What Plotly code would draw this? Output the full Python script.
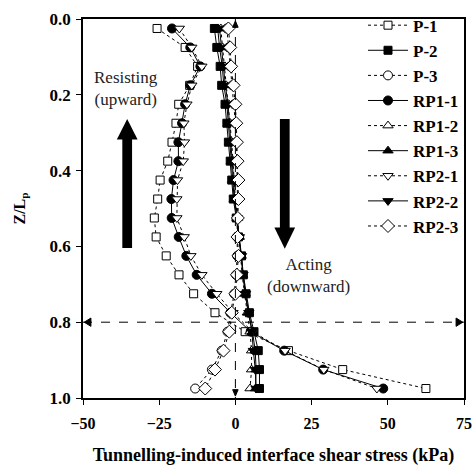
import plotly.graph_objects as go

# depths Z/Lp
depth = [0.025, 0.075, 0.125, 0.175, 0.225, 0.275, 0.325, 0.375, 0.425, 0.475,
         0.525, 0.575, 0.625, 0.675, 0.725, 0.775, 0.825, 0.875, 0.925, 0.975]

p1 = [-25.7, -16.5, -12.4, -15.0, -18.6, -19.5, -20.8, -22.2, -24.7, -25.5,
      -26.6, -26.0, -22.7, -18.5, -13.7, -6.7, 3.2, 17.4, 35.2, 62.5]
p2 = [-6.9, -6.1, -5.0, -4.5, -3.4, -2.8, -2.3, -1.7, -1.2, -0.7,
      0.3, 1.0, 2.0, 2.6, 3.5, 4.6, 6.1, 7.5, 7.9, 7.9]
p3 = [-2.8, -2.2, -1.7, -1.0, -0.4, 0.0, 0.3, 0.5, 0.6, 0.7,
      0.6, 0.5, 0.6, 0.2, -0.4, -1.6, -2.6, -4.5, -7.7, -13.2]
rp11 = [-20.8, -14.8, -11.5, -14.8, -16.5, -17.5, -18.7, -18.7, -20.3, -21.0,
        -20.9, -18.6, -16.1, -12.7, -7.7, -1.6, 5.0, 16.0, 28.8, 48.5]
rp12 = [-4.8, -4.2, -3.4, -3.0, -2.2, -1.7, -1.2, -0.8, -0.4, 0.0,
        0.7, 1.2, 1.7, 2.2, 3.0, 3.9, 4.8, 5.3, 5.3, 4.8]
rp13 = [-5.8, -5.2, -4.3, -3.8, -2.8, -2.3, -1.8, -1.3, -0.9, -0.4,
        0.5, 1.2, 1.9, 2.4, 3.2, 4.2, 5.6, 6.5, 6.8, 6.6]
rp21 = [-18.4, -14.3, -11.0, -14.3, -15.9, -16.9, -16.7, -17.1, -19.0, -19.2,
        -19.2, -16.8, -14.6, -11.0, -6.1, -0.8, 5.6, 16.3, 29.0, 46.4]
rp22 = [-5.2, -4.6, -3.8, -3.3, -2.4, -1.9, -1.5, -1.0, -0.6, -0.2,
        0.6, 1.3, 2.0, 2.5, 3.3, 4.4, 5.4, 5.9, 6.5, 6.8]
rp23 = [-2.3, -1.7, -1.4, -0.6, 0.0, 0.3, 0.5, 0.7, 1.0, 1.0,
        0.8, 0.7, 1.0, 0.5, 0.0, -1.2, -2.0, -3.9, -6.7, -9.9]

names = ["P-1", "P-2", "P-3", "RP1-1", "RP1-2", "RP1-3", "RP2-1", "RP2-2", "RP2-3"]
series = [p1, p2, p3, rp11, rp12, rp13, rp21, rp22, rp23]
symbols = ["square", "square", "circle", "circle", "triangle-up", "triangle-up",
           "triangle-down", "triangle-down", "diamond"]
filled = [False, True, False, True, False, True, False, True, False]
sizes = [8, 8, 9, 9, 9, 9, 9, 9, 10]

FONT = "Liberation Serif"

fig = go.Figure()
for nm, xs, sym, fl, sz in zip(names, series, symbols, filled, sizes):
    fig.add_trace(go.Scatter(
        x=xs, y=depth, name=nm, mode="lines+markers",
        line=dict(color="black", width=1, dash="solid" if fl else "dot"),
        marker=dict(symbol=sym, size=sz, color="black" if fl else "white",
                    line=dict(color="black", width=1)),
    ))

shapes = []
# dashed reference lines
shapes.append(dict(type="line", x0=-50, x1=75, y0=0.8, y1=0.8, xref="x", yref="y",
                   line=dict(color="black", width=1, dash="dash")))
shapes.append(dict(type="line", x0=0, x1=0, y0=0.0, y1=1.0, xref="x", yref="y",
                   line=dict(color="black", width=1, dash="dash")))
# small arrow heads
for path in ["M -49.6,0.8 L -47.4,0.789 L -47.4,0.811 Z",
             "M 74.6,0.8 L 72.4,0.789 L 72.4,0.811 Z",
             "M 0,0.005 L -0.9,0.022 L 0.9,0.022 Z",
             "M 0,0.995 L -0.9,0.978 L 0.9,0.978 Z"]:
    shapes.append(dict(type="path", path=path, xref="x", yref="y",
                       fillcolor="black", line=dict(color="black", width=1)))
# big up arrow (resisting)
shapes.append(dict(type="rect", x0=-37.1, x1=-33.9, y0=0.31, y1=0.604, xref="x", yref="y",
                   fillcolor="black", line=dict(width=0)))
shapes.append(dict(type="path", path="M -35.5,0.264 L -38.9,0.318 L -32.1,0.318 Z",
                   xref="x", yref="y", fillcolor="black", line=dict(width=0)))
# big down arrow (acting)
shapes.append(dict(type="rect", x0=14.6, x1=17.8, y0=0.264, y1=0.555, xref="x", yref="y",
                   fillcolor="black", line=dict(width=0)))
shapes.append(dict(type="path", path="M 16.2,0.606 L 12.8,0.55 L 19.6,0.55 Z",
                   xref="x", yref="y", fillcolor="black", line=dict(width=0)))

annotations = [
    dict(x=-35.8, y=0.183, xref="x", yref="y", text="Resisting<br>(upward)", showarrow=False,
         font=dict(family=FONT, size=17, color="#222")),
    dict(x=23.9, y=0.678, xref="x", yref="y", text="Acting<br>(downward)", showarrow=False,
         font=dict(family=FONT, size=17, color="#222")),
]

fig.update_layout(
    width=472, height=466,
    margin=dict(l=83, r=8, t=16, b=68),
    paper_bgcolor="white", plot_bgcolor="white",
    font=dict(family=FONT, color="black", size=16),
    shapes=shapes, annotations=annotations,
    legend=dict(x=1.0, xanchor="right", y=1.03, yanchor="top",
                bgcolor="rgba(0,0,0,0)", borderwidth=0, maxheight=400,
                font=dict(family=FONT, size=17, color="black", weight="bold"),
                itemwidth=40, tracegroupgap=0),
    showlegend=True,
)
fig.update_xaxes(range=[-50, 75], tickvals=[-50, -25, 0, 25, 50, 75],
                 showline=True, linecolor="black", linewidth=1.5, mirror=True,
                 ticks="outside", ticklen=5, tickcolor="black", showgrid=False, zeroline=False,
                 ticklabelstandoff=5, automargin=False,
                 tickfont=dict(family=FONT, size=16, weight="bold"),
                 title=dict(text="Tunnelling-induced interface shear stress (kPa)",
                            font=dict(family=FONT, size=18, weight="bold"), standoff=18))
fig.update_yaxes(range=[1.0, 0.0], tickvals=[0.0, 0.2, 0.4, 0.6, 0.8, 1.0], tickformat=".1f",
                 showline=True, linecolor="black", linewidth=1.5, mirror=True,
                 ticks="outside", ticklen=5, tickcolor="black", showgrid=False, zeroline=False,
                 ticklabelstandoff=2, automargin=False,
                 tickfont=dict(family=FONT, size=17, weight="bold"),
                 title=dict(text="Z/L<sub>p</sub>", font=dict(family=FONT, size=16, weight="bold"),
                            standoff=20))

fig.write_html("out.html")
